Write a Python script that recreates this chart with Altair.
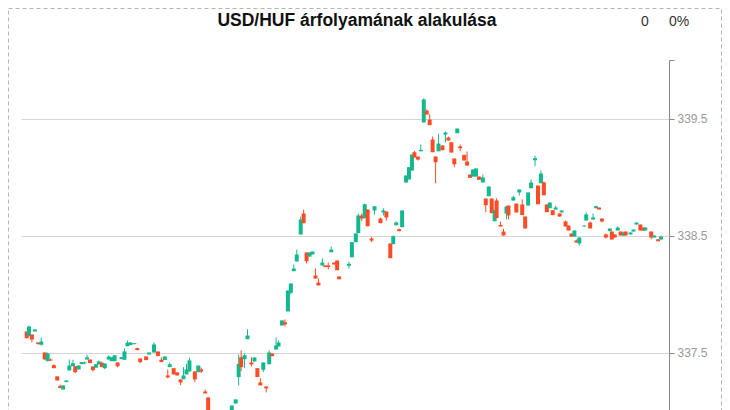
import altair as alt
import pandas as pd

TITLE = "USD/HUF árfolyamának alakulása"
CHANGE_ABS = "0"
CHANGE_PCT = "0%"
GREEN = "#14b88f"
RED = "#fc4c26"

t = [0.7, 3, 6, 9, 12.3, 15.5, 19, 22, 25, 28.3, 31.7, 34.7, 37.7, 41, 44, 47.7, 50, 53.5, 56.5, 59.5,
     62, 65, 68, 71, 74, 77, 80, 84, 87, 90, 93, 97, 100, 103, 106, 110, 113, 116, 122, 125,
     130, 134, 137.5, 141, 144, 146, 150, 153.5, 157, 160, 163, 166, 171.5, 175, 178, 182, 185,
     189, 193, 197, 201, 205, 209, 213, 216, 218.5, 222, 225, 229, 232, 235, 238, 241, 244, 247,
     250, 254, 256.5, 260, 263, 266, 269, 272, 275, 279, 282, 285, 288, 291, 294, 297, 301, 304,
     307, 310, 313, 316, 318, 328, 331, 335, 337.5, 341, 344, 347, 351, 354, 360, 363, 366, 370,
     373, 376, 379, 382, 386, 389, 392, 394.5, 398, 401, 404, 407, 410, 413, 416, 419, 423, 426,
     429, 432, 435, 438, 441, 445, 448, 451, 454, 457, 460, 464, 467, 470, 473, 476, 478, 482,
     485, 488, 490, 495, 498, 501, 504, 507, 510, 513, 517, 520, 523, 526, 529, 532, 535, 538,
     542, 544, 548, 551, 554, 557, 559, 562, 567, 569, 573, 576, 579, 582, 585, 589, 593, 595,
     598, 601, 604, 607, 609, 614, 617, 620, 624, 627, 629, 635, 638, 642, 645]

open_ = [337.680, 337.639, 337.654, 337.680, 337.586, 337.566, 337.500, 337.426, 337.440, 337.392,
         337.296, 337.213, 337.184, 337.247, 337.347, 337.383, 337.383, 337.355, 337.400, 337.406,
         337.440, 337.440, 337.381, 337.370, 337.398, 337.412, 337.366, 337.440, 337.426, 337.426,
         337.415, 337.443, 337.438, 337.554, 337.563, 337.571, 337.537, 337.449, 337.466, 337.483,
         337.500, 337.509, 337.438, 337.435, 337.304, 337.375, 337.366, 337.330, 337.270, 337.272,
         337.313, 337.338, 337.338, 337.332, 337.355, 337.167, 337.116,
         336.816, 336.936, 336.850, 336.953, 336.885, 336.953, 337.064, 337.290, 337.460, 337.443,
         337.614, 337.415, 337.423, 337.366, 337.244, 337.352, 337.210, 337.400, 337.492, 337.526,
         337.552, 337.731, 337.759, 337.851, 338.010, 338.195, 338.278, 338.509, 338.688, 338.355,
         338.320, 338.338, 338.158, 338.098, 338.244, 338.244, 338.244, 338.357, 338.269, 338.286,
         338.150, 338.241, 338.314, 338.443, 338.520, 338.671, 338.648, 338.722, 338.474, 338.714,
         338.645, 338.697, 338.705, 338.432, 338.426, 338.588, 338.554, 338.571, 338.953, 338.979,
         339.055, 339.212, 339.175, 339.220, 339.466, 339.568, 339.491, 339.320, 339.175, 339.220,
         339.269, 339.363, 339.337, 339.297, 339.158, 339.374, 339.261, 339.189, 339.132, 339.021,
         339.004, 339.004, 339.004, 338.953, 338.816, 338.836, 338.816, 338.622, 338.799, 338.591,
         338.534, 338.688, 338.756, 338.799, 338.773, 338.868, 338.765, 338.662, 338.756, 338.904,
         339.143, 338.927, 338.947, 338.953, 338.765, 338.733, 338.716, 338.722, 338.688, 338.697,
         338.620, 338.585, 338.517, 338.491, 338.457, 338.432, 338.577, 338.628, 338.611, 338.637,
         338.733, 338.739, 338.645, 338.509, 338.537, 338.534, 338.509, 338.543, 338.534, 338.500,
         338.534, 338.509, 338.534, 338.594, 338.594, 338.568, 338.543, 338.534, 338.483, 338.468,
         338.466]

high = [337.680, 337.731, 337.654, 337.697, 337.586, 337.628, 337.500, 337.500, 337.449, 337.400,
        337.296, 337.227, 337.219, 337.261, 337.440, 337.438, 337.383, 337.389, 337.418, 337.423,
        337.481, 337.440, 337.381, 337.400, 337.432, 337.423, 337.406, 337.475, 337.460, 337.477,
        337.415, 337.460, 337.535, 337.603, 337.586, 337.580, 337.543, 337.449, 337.466, 337.500,
        337.586, 337.509, 337.460, 337.466, 337.355, 337.415, 337.366, 337.330, 337.270, 337.375,
        337.403, 337.455, 337.338, 337.389, 337.372, 337.184, 337.116,
        336.930, 336.950, 336.980, 336.965, 336.990, 337.047, 337.099, 337.483, 337.518, 337.492,
        337.697, 337.458, 337.458, 337.366, 337.281, 337.415, 337.210, 337.518, 337.492, 337.628,
        337.603, 337.774, 337.783, 338.030, 338.090, 338.252, 338.380, 338.662, 338.722, 338.355,
        338.355, 338.363, 338.218, 338.132, 338.304, 338.244, 338.269, 338.406, 338.269, 338.286,
        338.150, 338.278, 338.443, 338.517, 338.688, 338.688, 338.773, 338.722, 338.485, 338.750,
        338.654, 338.733, 338.705, 338.432, 338.500, 338.620, 338.560, 338.714, 339.013, 339.084,
        339.192, 339.224, 339.175, 339.278, 339.674, 339.577, 339.537, 339.346, 339.175, 339.366,
        339.269, 339.389, 339.346, 339.297, 339.158, 339.414, 339.278, 339.189, 339.218, 339.021,
        339.064, 339.073, 339.004, 339.021, 338.816, 338.919, 338.816, 338.720, 338.819, 338.620,
        338.557, 338.748, 338.756, 338.839, 338.773, 338.893, 338.808, 338.662, 338.868, 338.979,
        339.181, 338.927, 339.055, 338.962, 338.765, 338.782, 338.716, 338.756, 338.688, 338.714,
        338.628, 338.585, 338.517, 338.543, 338.466, 338.483, 338.585, 338.697, 338.620, 338.688,
        338.756, 338.739, 338.645, 338.517, 338.560, 338.534, 338.509, 338.577, 338.534, 338.526,
        338.534, 338.526, 338.551, 338.611, 338.594, 338.568, 338.568, 338.534, 338.500, 338.468,
        338.500]

low = [337.622, 337.639, 337.586, 337.680, 337.571, 337.560, 337.440, 337.426, 337.426, 337.366,
       337.261, 337.196, 337.184, 337.247, 337.347, 337.383, 337.324, 337.355, 337.400, 337.400,
       337.440, 337.409, 337.338, 337.370, 337.398, 337.375, 337.357, 337.440, 337.426, 337.426,
       337.375, 337.443, 337.438, 337.554, 337.563, 337.571, 337.520, 337.409, 337.435, 337.483,
       337.500, 337.469, 337.418, 337.435, 337.278, 337.375, 337.313, 337.304, 337.221, 337.272,
       337.313, 337.338, 337.247, 337.332, 337.324, 337.150, 336.799,
       336.800, 336.840, 336.840, 336.860, 336.880, 336.950, 337.064, 337.219, 337.341, 337.366,
       337.614, 337.381, 337.423, 337.290, 337.219, 337.332, 337.159, 337.400, 337.469, 337.526,
       337.552, 337.731, 337.722, 337.851, 337.996, 338.195, 338.278, 338.509, 338.605, 338.261,
       338.320, 338.338, 338.132, 338.073, 338.244, 338.230, 338.210, 338.357, 338.252, 338.203,
       338.126, 338.218, 338.314, 338.443, 338.520, 338.622, 338.648, 338.579, 338.443, 338.680,
       338.605, 338.671, 338.628, 338.306, 338.426, 338.588, 338.537, 338.571, 338.953, 338.979,
       339.055, 339.167, 339.141, 339.220, 339.466, 339.534, 339.443, 339.212, 338.947, 339.220,
       339.229, 339.297, 339.312, 339.209, 339.084, 339.374, 339.220, 339.141, 339.098, 338.993,
       339.004, 339.004, 338.976, 338.953, 338.699, 338.836, 338.691, 338.622, 338.648, 338.577,
       338.500, 338.637, 338.637, 338.799, 338.697, 338.842, 338.674, 338.560, 338.756, 338.904,
       339.092, 338.767, 338.947, 338.844, 338.699, 338.733, 338.674, 338.722, 338.662, 338.697,
       338.577, 338.543, 338.491, 338.491, 338.440, 338.415, 338.577, 338.628, 338.560, 338.637,
       338.733, 338.722, 338.611, 338.474, 338.537, 338.466, 338.483, 338.543, 338.500, 338.500,
       338.500, 338.509, 338.534, 338.594, 338.543, 338.543, 338.543, 338.466, 338.483, 338.451,
       338.466]

close = [337.622, 337.722, 337.611, 337.697, 337.571, 337.594, 337.440, 337.492, 337.432, 337.366,
         337.261, 337.196, 337.219, 337.261, 337.389, 337.409, 337.332, 337.389, 337.418, 337.415,
         337.458, 337.409, 337.349, 337.400, 337.423, 337.375, 337.406, 337.466, 337.460, 337.477,
         337.383, 337.460, 337.509, 337.583, 337.586, 337.580, 337.520, 337.418, 337.435, 337.500,
         337.569, 337.469, 337.418, 337.466, 337.287, 337.400, 337.313, 337.304, 337.244, 337.304,
         337.355, 337.432, 337.270, 337.389, 337.338, 337.150, 336.833,
         336.919, 336.850, 336.970, 336.868, 336.987, 337.047, 337.099, 337.403, 337.375, 337.477,
         337.645, 337.398, 337.458, 337.290, 337.219, 337.415, 337.193, 337.500, 337.469, 337.560,
         337.586, 337.774, 337.740, 338.030, 338.090, 338.218, 338.338, 338.637, 338.605, 338.280,
         338.355, 338.363, 338.132, 338.073, 338.269, 338.230, 338.231, 338.380, 338.252, 338.203,
         338.126, 338.258, 338.443, 338.517, 338.671, 338.645, 338.767, 338.579, 338.457, 338.750,
         338.605, 338.714, 338.654, 338.306, 338.494, 338.611, 338.537, 338.714, 339.013, 339.084,
         339.192, 339.167, 339.149, 339.232, 339.663, 339.534, 339.443, 339.212, 339.126, 339.286,
         339.229, 339.380, 339.312, 339.209, 339.109, 339.414, 339.246, 339.141, 339.098, 338.993,
         339.064, 339.073, 338.976, 338.996, 338.759, 338.919, 338.691, 338.720, 338.648, 338.577,
         338.500, 338.748, 338.671, 338.827, 338.697, 338.893, 338.674, 338.560, 338.868, 338.953,
         339.161, 338.767, 339.030, 338.844, 338.699, 338.782, 338.674, 338.739, 338.662, 338.714,
         338.577, 338.543, 338.491, 338.543, 338.440, 338.483, 338.585, 338.680, 338.560, 338.654,
         338.750, 338.722, 338.620, 338.483, 338.560, 338.466, 338.483, 338.568, 338.500, 338.526,
         338.500, 338.526, 338.551, 338.611, 338.543, 338.543, 338.568, 338.483, 338.500, 338.451,
         338.491]

df = pd.DataFrame({"t": t, "open": open_, "high": high, "low": low, "close": close})
df["dir"] = ["up" if c >= o else "down" for o, c in zip(df["open"], df["close"])]

W = 648
H = 409.5

xenc = alt.X("t:Q", scale=alt.Scale(domain=[0, 648], nice=False, zero=False), axis=None)
yscale = alt.Scale(domain=[336.5, 340.0], nice=False, zero=False)
color = alt.Color("dir:N", scale=alt.Scale(domain=["up", "down"], range=[GREEN, RED]), legend=None)

yaxis = alt.Axis(
    orient="right",
    values=[336.5, 337.5, 338.5, 339.5, 340.0],
    labelExpr="(datum.value >= 340 || datum.value <= 336.5) ? '' : format(datum.value, '.1f')",
    title=None,
    grid=True,
    gridColor="#d6d6d6",
    gridOpacity={"condition": {"test": "datum.value >= 340", "value": 0}, "value": 1},
    domainColor="#888888",
    tickColor="#888888",
    tickSize=5,
    labelColor="#9a9a9a",
    labelFont="Liberation Sans",
    labelFontSize=12,
    labelPadding=3,
)

wicks = alt.Chart(df).mark_rule(strokeWidth=1).encode(
    x=xenc,
    y=alt.Y("low:Q", scale=yscale, axis=yaxis),
    y2="high:Q",
    color=color,
)

bodies = alt.Chart(df).mark_bar(size=4).encode(
    x=xenc,
    y=alt.Y("open:Q", scale=yscale),
    y2="close:Q",
    color=color,
)

title_df = pd.DataFrame({"label": [TITLE]})
title_txt = alt.Chart(title_df).mark_text(
    font="Liberation Sans", fontSize=17.5, fontWeight="bold", color="#111111",
    align="center", baseline="alphabetic"
).encode(text="label:N", x=alt.value(336), y=alt.value(-34))

abs_df = pd.DataFrame({"label": [CHANGE_ABS]})
abs_txt = alt.Chart(abs_df).mark_text(
    font="Liberation Sans", fontSize=14, color="#333333", align="center", baseline="alphabetic"
).encode(text="label:N", x=alt.value(624), y=alt.value(-34))

pct_df = pd.DataFrame({"label": [CHANGE_PCT]})
pct_txt = alt.Chart(pct_df).mark_text(
    font="Liberation Sans", fontSize=14, color="#333333", align="left", baseline="alphabetic"
).encode(text="label:N", x=alt.value(648), y=alt.value(-34))

border = alt.Chart(pd.DataFrame({"a": [0]})).mark_rect(
    fill="transparent", stroke="#b5b5b5", strokeWidth=1, strokeDash=[4, 3]
).encode(x=alt.value(-12.5), x2=alt.value(700.5), y=alt.value(-51.5), y2=alt.value(460))

chart = alt.layer(border, wicks, bodies, title_txt, abs_txt, pct_txt).properties(
    width=W,
    height=H,
    padding={"left": 13, "top": 52, "right": 53, "bottom": 40},
    autosize=alt.AutoSizeParams(type="none"),
).configure_view(stroke=None)

chart.save("out.html", embed_options={"renderer": "svg", "actions": False})
